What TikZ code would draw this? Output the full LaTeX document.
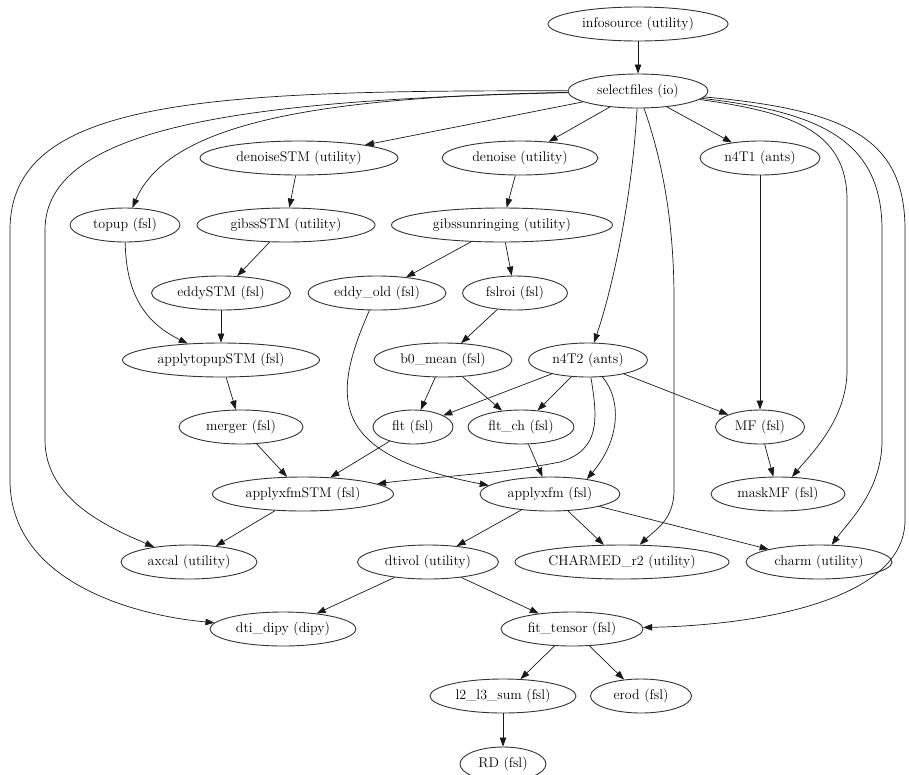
\documentclass[tikz,border=0pt]{standalone}
\usetikzlibrary{shapes.geometric,arrows.meta}
\begin{document}
\begin{tikzpicture}[x=1pt,y=-1pt,
  nd/.style={ellipse,draw=black!80,line width=0.9pt,inner sep=0pt,minimum height=34pt,font=\fontsize{14}{16}\selectfont},
  ed/.style={draw=black!90,line width=0.7pt,-{Triangle[length=9pt,width=6.5pt]}}]
\fill[white] (0,0) rectangle (909,774);
\useasboundingbox (0,0) rectangle (909,774);
% nodes
\node[nd,minimum width=180pt] (infosource) at (638,24) {infosource (utility)};
\node[nd,minimum width=140pt] (selectfiles) at (638,91) {selectfiles (io)};
\node[nd,minimum width=198pt] (denoiseSTM) at (299,158) {denoiseSTM (utility)};
\node[nd,minimum width=156pt] (denoise) at (520,158) {denoise (utility)};
\node[nd,minimum width=120pt] (n4T1) at (760,158) {n4T1 (ants)};
\node[nd,minimum width=110pt] (topup) at (125,225) {topup (fsl)};
\node[nd,minimum width=178pt] (gibssSTM) at (286,225) {gibssSTM (utility)};
\node[nd,minimum width=221pt] (gibssunringing) at (502,225) {gibssunringing (utility)};
\node[nd,minimum width=139pt] (eddySTM) at (221,293) {eddySTM (fsl)};
\node[nd,minimum width=138pt] (eddyold) at (377,293) {eddy\_old (fsl)};
\node[nd,minimum width=105pt] (fslroi) at (515,293) {fslroi (fsl)};
\node[nd,minimum width=197pt] (applytopupSTM) at (221,360) {applytopupSTM (fsl)};
\node[nd,minimum width=138pt] (b0mean) at (443,360) {b0\_mean (fsl)};
\node[nd,minimum width=119pt] (n4T2) at (588,360) {n4T2 (ants)};
\node[nd,minimum width=124pt] (merger) at (241,427) {merger (fsl)};
\node[nd,minimum width=80pt] (flt) at (413,427) {flt (fsl)};
\node[nd,minimum width=106pt] (fltch) at (521,427) {flt\_ch (fsl)};
\node[nd,minimum width=89pt] (MF) at (760,427) {MF (fsl)};
\node[nd,minimum width=181pt] (applyxfmSTM) at (303,494) {applyxfmSTM (fsl)};
\node[nd,minimum width=140pt] (applyxfm) at (550,494) {applyxfm (fsl)};
\node[nd,minimum width=134pt] (maskMF) at (778,494) {maskMF (fsl)};
\node[nd,minimum width=136pt] (axcal) at (189,562) {axcal (utility)};
\node[nd,minimum width=141pt] (dtivol) at (428,562) {dtivol (utility)};
\node[nd,minimum width=214pt] (charmed) at (622,562) {CHARMED\_r2 (utility)};
\node[nd,minimum width=146pt] (charm) at (819,562) {charm (utility)};
\node[nd,minimum width=146pt] (dtidipy) at (283,629) {dti\_dipy (dipy)};
\node[nd,minimum width=142pt] (fittensor) at (572,629) {fit\_tensor (fsl)};
\node[nd,minimum width=146pt] (l2l3) at (503,696) {l2\_l3\_sum (fsl)};
\node[nd,minimum width=101pt] (erod) at (641,696) {erod (fsl)};
\node[nd,minimum width=86pt] (RD) at (503,764) {RD (fsl)};
% straight edges
\draw[ed] (infosource) -- (selectfiles);
\draw[ed] (selectfiles) -- (denoiseSTM);
\draw[ed] (selectfiles) -- (denoise);
\draw[ed] (selectfiles) -- (n4T1);
\draw[ed] (denoiseSTM) -- (gibssSTM);
\draw[ed] (denoise) -- (gibssunringing);
\draw[ed] (gibssSTM) -- (eddySTM);
\draw[ed] (gibssunringing) -- (eddyold);
\draw[ed] (gibssunringing) -- (fslroi);
\draw[ed] (eddySTM) -- (applytopupSTM);
\draw[ed] (fslroi) -- (b0mean);
\draw[ed] (applytopupSTM) -- (merger);
\draw[ed] (b0mean) -- (flt);
\draw[ed] (b0mean) -- (fltch);
\draw[ed] (n4T2) -- (flt);
\draw[ed] (n4T2) -- (fltch);
\draw[ed] (n4T2) -- (MF);
\draw[ed] (n4T1) -- (MF);
\draw[ed] (merger) -- (applyxfmSTM);
\draw[ed] (flt) -- (applyxfmSTM);
\draw[ed] (fltch) -- (applyxfm);
\draw[ed] (MF) -- (maskMF);
\draw[ed] (applyxfmSTM) -- (axcal);
\draw[ed] (applyxfm) -- (dtivol);
\draw[ed] (applyxfm) -- (charmed);
\draw[ed] (applyxfm) -- (charm);
\draw[ed] (dtivol) -- (dtidipy);
\draw[ed] (dtivol) -- (fittensor);
\draw[ed] (fittensor) -- (l2l3);
\draw[ed] (fittensor) -- (erod);
\draw[ed] (l2l3) -- (RD);
% curved edges
\draw[ed] (selectfiles) .. controls (330,97) and (170,120) .. (topup);
\draw[ed] (selectfiles) .. controls (250,100) and (45,125) .. (45,230) -- (45,440) .. controls (45,500) and (110,528) .. (axcal);
\draw[ed] (selectfiles) .. controls (200,90) and (10,100) .. (10,230) -- (10,480) .. controls (10,580) and (130,615) .. (dtidipy);
\draw[ed] (selectfiles) .. controls (632,200) and (612,290) .. (n4T2);
\draw[ed] (selectfiles) .. controls (662,160) and (674,220) .. (674,300) -- (674,490) .. controls (674,520) and (655,530) .. (charmed);
\draw[ed] (selectfiles) .. controls (790,112) and (847,130) .. (847,200) -- (847,370) .. controls (847,420) and (810,455) .. (maskMF);
\draw[ed] (selectfiles) .. controls (820,112) and (882,140) .. (882,230) -- (882,440) .. controls (882,490) and (850,520) .. (charm);
\draw[ed] (selectfiles) .. controls (850,110) and (905,140) .. (905,230) -- (905,520) .. controls (905,600) and (760,625) .. (fittensor);
\draw[ed] (topup) .. controls (126,300) and (150,325) .. (applytopupSTM);
\draw[ed] (eddyold) .. controls (330,400) and (330,455) .. (applyxfm.172);
\draw[ed] (n4T2) .. controls (598,420) and (600,450) .. (560,462) .. controls (500,474) and (420,478) .. (applyxfmSTM);
\draw[ed] (n4T2) .. controls (622,400) and (620,440) .. (applyxfm.22);
\end{tikzpicture}
\end{document}
